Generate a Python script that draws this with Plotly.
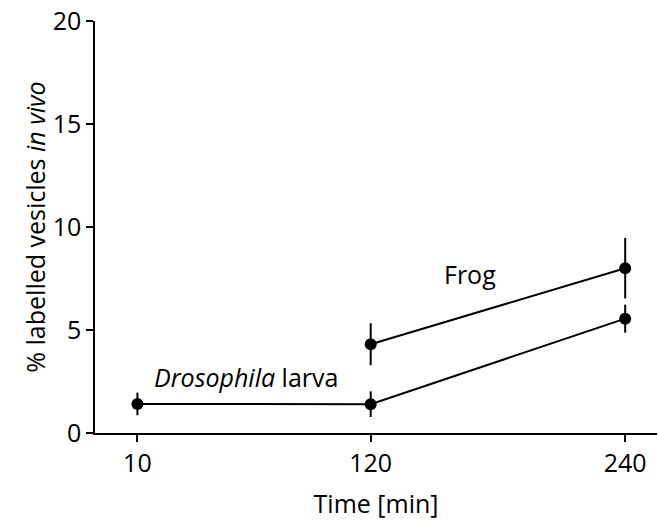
import plotly.graph_objects as go

# Time points (min)
time_drosophila = [10, 120, 240]
time_frog = [120, 240]

# % labelled vesicles in vivo, mean and error
drosophila_mean = [1.41, 1.40, 5.55]
drosophila_err = [0.55, 0.62, 0.68]
frog_mean = [4.31, 8.0]
frog_err = [1.02, 1.47]

x_ticks = [10, 120, 240]
y_ticks = [0, 5, 10, 15, 20]

FONT = "Open Sans"
BLACK = "#000000"
FS = 25

fig = go.Figure()

for xs, ys, es in [(time_drosophila, drosophila_mean, drosophila_err),
                   (time_frog, frog_mean, frog_err)]:
    fig.add_trace(go.Scatter(
        x=xs, y=ys, mode="lines+markers",
        line=dict(color=BLACK, width=2),
        marker=dict(color=BLACK, size=12),
        error_y=dict(type="data", array=es, visible=True,
                     color=BLACK, thickness=2, width=0),
        showlegend=False, cliponaxis=False,
    ))

fig.add_annotation(x=17, y=2.7, xanchor="left", yanchor="middle",
                   text="<i>Drosophila</i> larva", showarrow=False,
                   font=dict(family=FONT, size=FS, color=BLACK))
fig.add_annotation(x=167, y=7.7, xanchor="center", yanchor="middle",
                   text="Frog", showarrow=False,
                   font=dict(family=FONT, size=FS, color=BLACK))

fig.update_layout(
    width=658, height=520,
    margin=dict(l=95, r=1, t=21, b=87),
    plot_bgcolor="white", paper_bgcolor="white",
    font=dict(family=FONT, size=FS, color=BLACK),
    xaxis=dict(
        range=[-10, 255], tickvals=x_ticks, ticktext=[str(v) for v in x_ticks],
        showgrid=False, zeroline=False, showline=True, linecolor=BLACK, linewidth=1.5,
        ticks="outside", ticklen=7, tickwidth=1.5, tickcolor=BLACK,
        tickfont=dict(size=FS),
        title=dict(text="Time [min]", standoff=18, font=dict(size=FS)),
        automargin=False,
    ),
    yaxis=dict(
        range=[0, 20], tickvals=y_ticks,
        showgrid=False, zeroline=False, showline=True, linecolor=BLACK, linewidth=1.5,
        ticks="outside", ticklen=7, tickwidth=1.5, tickcolor=BLACK,
        tickfont=dict(size=FS),
        title=dict(text="% labelled vesicles <i>in vivo</i>", standoff=0, font=dict(size=FS)),
        automargin=False,
    ),
)

fig.write_html("out.html")
